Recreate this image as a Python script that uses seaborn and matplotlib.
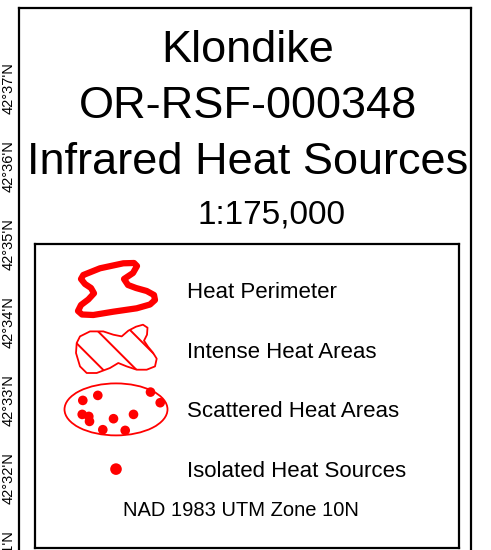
import matplotlib.pyplot as plt
import seaborn as sns
import numpy as np
from matplotlib.patches import Polygon, Ellipse

# Testi del titolo
title_lines = ['Klondike', 'OR-RSF-000348', 'Infrared Heat Sources']
scale_text = '1:175,000'
projection_text = 'NAD 1983 UTM Zone 10N'

# Reticolo di latitudine (minuti oltre 42°N)
lat_minutes = [31, 32, 33, 34, 35, 36, 37]
lat_labels = [f"42°{m}'N" for m in lat_minutes]

# Voci della legenda
legend_labels = ['Heat Perimeter', 'Intense Heat Areas',
                 'Scattered Heat Areas', 'Isolated Heat Sources']

# Contorni dei simboli (pixel, relativi al centro del simbolo)
perimeter_x = [-32.7, -16, 7.3, 18, 21, 17, 8, 12, 20, 30.7, 38, 39, 34, 20.7,
               -2.7, -22.7, -34, -38, -35, -27.7, -22, -25, -31, -35]
perimeter_y = [-15, -21.7, -26.7, -27, -24, -17, -11, -5, -2, 1, 5, 10, 14.5, 18.3,
               21.7, 25, 24.5, 21, 15, 9.5, 3.3, -2, -6, -11]
intense_x = [-36, -26, -12.7, -2.7, 5.7, 12.3, 20, 27, 31.5, 31, 28, 32, 37,
             40.7, 39, 30.7, 20.7, 10.7, 2.3, -6, -19.3, -29.3, -36, -40, -39.3]
intense_y = [-13.3, -18.3, -18.3, -15, -13.3, -19, -23, -25, -22, -15, -9, -3, 3,
             9, 16.7, 20, 20, 16.7, 13.3, 18.3, 23.3, 23.3, 16.7, 3.3, -6.7]
scatter_dots_x = [-33.2, -18.2, -33.8, -27.2, -26.5, -2.5, -13.2, 9.2, 17.5, 34.5, 44.2]
scatter_dots_y = [-9, -14, 5, 7, 12, 9.3, 20.3, 21, 5, -17.3, -6.7]

sns.set_style('white')
plt.rcParams['font.family'] = ['Liberation Sans', 'DejaVu Sans']
plt.rcParams['text.color'] = 'black'
plt.rcParams['ytick.color'] = 'black'
plt.rcParams['hatch.linewidth'] = 1.4
plt.rcParams['hatch.color'] = 'red'

W, H = 491, 550
fig = plt.figure(figsize=(W / 100, H / 100), dpi=100)


def px_rect(x0, y0, x1, y1):
    return [x0 / W, 1 - y1 / H, (x1 - x0) / W, (y1 - y0) / H]


# Cornice della mappa con etichette di latitudine
y37, step = 88, 78
top_px, bot_px = 8, 620
ax = fig.add_axes(px_rect(19, top_px, 471, bot_px))
ax.set_xlim(0, 1)
ax.set_ylim(37 - (bot_px - y37) / step, 37 + (y37 - top_px) / step)
ax.set_xticks([])
ax.set_yticks(lat_minutes)
ax.set_yticklabels(lat_labels, rotation=90, va='center', fontsize=10.5)
ax.tick_params(axis='y', length=0, pad=2.5, labelcolor='black')
for s in ax.spines.values():
    s.set_linewidth(1.6)
    s.set_color('black')

# Titolo
for i, line in enumerate(title_lines):
    fig.text(248 / W, 1 - (62 + i * 56) / H, line, ha='center', va='baseline',
             fontsize=32.5, color='black')
fig.text(271 / W, 1 - 223 / H, scale_text, ha='center', va='baseline',
         fontsize=24, color='black')

# Riquadro della legenda (coordinate in pixel della figura)
lax = fig.add_axes(px_rect(35, 244, 459, 548))
lax.set_xlim(35, 459)
lax.set_ylim(548, 244)
lax.set_xticks([])
lax.set_yticks([])
for s in lax.spines.values():
    s.set_linewidth(1.6)
    s.set_color('black')

gx = 116
row0, row_step = 290, 59.7
rows = [row0 + i * row_step for i in range(len(legend_labels))]

# Perimetro
lax.add_patch(Polygon(np.column_stack([gx + np.array(perimeter_x),
                                       rows[0] + np.array(perimeter_y)]),
                      closed=True, fill=False, edgecolor='red', lw=4.5,
                      joinstyle='round'))
# Aree intense
lax.add_patch(Polygon(np.column_stack([gx + np.array(intense_x),
                                       rows[1] + np.array(intense_y)]),
                      closed=True, facecolor='none', edgecolor='red', lw=1.3,
                      hatch='\\', joinstyle='round'))
# Aree sparse
lax.add_patch(Ellipse((gx, rows[2]), 103, 52, fill=False, edgecolor='red', lw=1.3))
sns.scatterplot(x=gx + np.array(scatter_dots_x), y=rows[2] + np.array(scatter_dots_y),
                ax=lax, color='red', s=48, edgecolor='none', legend=False)
# Sorgente isolata
sns.scatterplot(x=[gx], y=[rows[3]], ax=lax, color='red', s=70,
                edgecolor='none', legend=False)

for r, lab in zip(rows, legend_labels):
    lax.text(187, r + 8, lab, ha='left', va='baseline', fontsize=16, color='black')
lax.text(241, 516, projection_text, ha='center', va='baseline', fontsize=14.5,
         color='black')
lax.set_xlabel('')
lax.set_ylabel('')

fig.savefig('out.png', dpi=100)
